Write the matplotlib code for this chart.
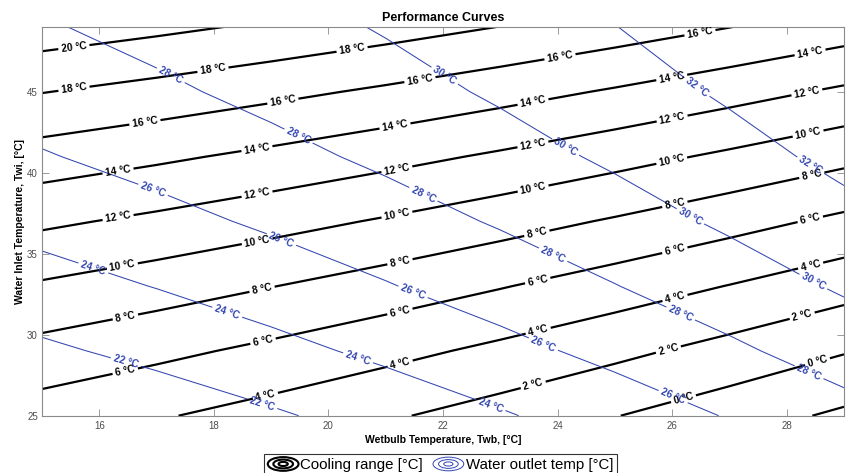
import numpy as np
import matplotlib
matplotlib.use("Agg")
import matplotlib.pyplot as plt
from matplotlib.patches import Ellipse
from matplotlib.legend_handler import HandlerBase
from matplotlib.lines import Line2D

plt.rcParams['font.family'] = ['Liberation Sans', 'DejaVu Sans']

# ---------------- data ----------------
twb = [15, 17, 19, 21, 23, 25, 27, 29]          # wet-bulb temperature [°C]
twi = [25, 29, 33, 37, 41, 45, 49]              # water inlet temperature [°C]
# water outlet temperature [°C] at (twi row, twb column)
two = [
    [19.93, 20.82, 21.76, 22.76, 23.82, 24.94, 26.11, 27.34],
    [21.67, 22.52, 23.44, 24.41, 25.44, 26.52, 27.67, 28.87],
    [23.24, 24.06, 24.95, 25.89, 26.89, 27.95, 29.06, 30.23],
    [24.64, 25.43, 26.29, 27.20, 28.17, 29.20, 30.29, 31.43],
    [25.87, 26.64, 27.47, 28.35, 29.29, 30.29, 31.35, 32.46],
    [26.94, 27.68, 28.48, 29.33, 30.24, 31.21, 32.24, 33.33],
    [27.84, 28.55, 29.32, 30.14, 31.03, 31.97, 32.97, 34.02],
]
range_levels = [-2, 0, 2, 4, 6, 8, 10, 12, 14, 16, 18, 20]
outlet_levels = [22, 24, 26, 28, 30, 32]
x_ticks = [16, 18, 20, 22, 24, 26, 28]
y_ticks = [25, 30, 35, 40, 45]

title = "Performance Curves"
x_label = "Wetbulb Temperature, Twb, [°C]"
y_label = "Water Inlet Temperature, Twi, [°C]"
legend_labels = ["Cooling range [°C]", "Water outlet temp [°C]"]

# ---------------- layout: label spots (reference pixels, from top-left) ----
black_label_px = [(74, 48), (74, 89), (213, 70), (352, 49), (145, 123), (283, 102),
                  (420, 80), (560, 57), (700, 33), (118, 171), (257, 149), (395, 126),
                  (533, 102), (672, 79), (810, 52), (118, 217), (257, 194), (397, 170),
                  (533, 145), (672, 118), (807, 93), (122, 264), (257, 240), (397, 215),
                  (533, 188), (672, 162), (808, 133), (125, 315), (262, 289), (400, 262),
                  (537, 234), (675, 205), (812, 176), (125, 370), (263, 341), (400, 312),
                  (538, 282), (675, 251), (810, 218), (265, 394), (400, 363), (538, 330),
                  (675, 298), (810, 263), (533, 384), (668, 348), (802, 315), (683, 397),
                  (817, 360)]
blue_label_px = [(125, 365), (262, 405), (93, 269), (227, 313), (358, 358), (490, 407),
                 (153, 190), (282, 238), (413, 292), (543, 345), (673, 397), (172, 73),
                 (300, 133), (425, 191), (553, 255), (680, 315), (807, 377), (447, 72),
                 (568, 143), (690, 217), (812, 284), (700, 83), (812, 163)]

W, H = 849, 473
fig = plt.figure(figsize=(W / 100, H / 100), dpi=100)
ax = fig.add_axes([42 / W, 1 - 415.7 / H, (844 - 42) / W, (415.7 - 27) / H])

TWB, TWI = np.meshgrid(twb, twi)
TWO = np.array(two)
RNG = TWI - TWO   # cooling range = inlet - outlet

blue = '#3346b0'
cs_r = ax.contour(TWB, TWI, RNG, levels=range_levels, colors='black', linewidths=1.6,
                  negative_linestyles='solid')
cs_o = ax.contour(TWB, TWI, TWO, levels=outlet_levels, colors=blue, linewidths=0.75)

ax.set_xlim(15, 29)
ax.set_ylim(25, 49)
ax.set_xticks(x_ticks)
ax.set_yticks(y_ticks)

inv = ax.transData.inverted()
def to_data(pts):
    return [tuple(inv.transform((px, H - py))) for px, py in pts]

fmt = lambda v: f"{v:.0f} °C"
with plt.rc_context({'font.weight': 'bold'}):
    tb = ax.clabel(cs_r, fontsize=7.3, inline=True, inline_spacing=3, fmt=fmt,
                   manual=to_data(black_label_px), colors='black')
    tl = ax.clabel(cs_o, fontsize=7.3, inline=True, inline_spacing=3, fmt=fmt,
                   manual=to_data(blue_label_px), colors=blue)
for t in list(tb) + list(tl):
    t.set_fontweight('bold')

frame_c = '#8a8a8a'
for s in ax.spines.values():
    s.set_color(frame_c)
    s.set_linewidth(0.8)
ax.tick_params(direction='in', length=5, width=0.6, color=frame_c, labelcolor='#4d4d4d',
               labelsize=7, top=True, right=True)
ax.tick_params(axis='x', pad=4)
ax.tick_params(axis='y', pad=3)

ax.set_title(title, fontweight='bold', fontsize=9, pad=4)
ax.set_xlabel(x_label, fontweight='bold', fontsize=7.5, labelpad=3)
ax.set_ylabel(y_label, fontweight='bold', fontsize=7.5, labelpad=1.5)


class RingHandler(HandlerBase):
    def create_artists(self, legend, orig_handle, xdescent, ydescent, width, height,
                       fontsize, trans):
        cx = 0.5 * width - xdescent
        cy = 0.5 * height - ydescent
        arts = []
        for f in (1.0, 0.64, 0.3):
            e = Ellipse((cx, cy), width * f, height * 1.1 * f, fill=False,
                        edgecolor=orig_handle.get_color(),
                        lw=orig_handle.get_linewidth(), transform=trans)
            arts.append(e)
        return arts


h1 = Line2D([], [], color='black', lw=1.5)
h2 = Line2D([], [], color=blue, lw=0.7)
leg = fig.legend([h1, h2], legend_labels, loc='upper center',
                 bbox_to_anchor=(440.5 / W, 1 - 454 / H), ncol=2, frameon=True,
                 fancybox=False, edgecolor='black', fontsize=10.8, handlelength=2.05,
                 handleheight=0.9, handletextpad=0.13, columnspacing=0.65,
                 borderpad=0.25, borderaxespad=0,
                 handler_map={h1: RingHandler(), h2: RingHandler()})
leg.get_frame().set_linewidth(0.8)

fig.savefig('out.png', dpi=100)
